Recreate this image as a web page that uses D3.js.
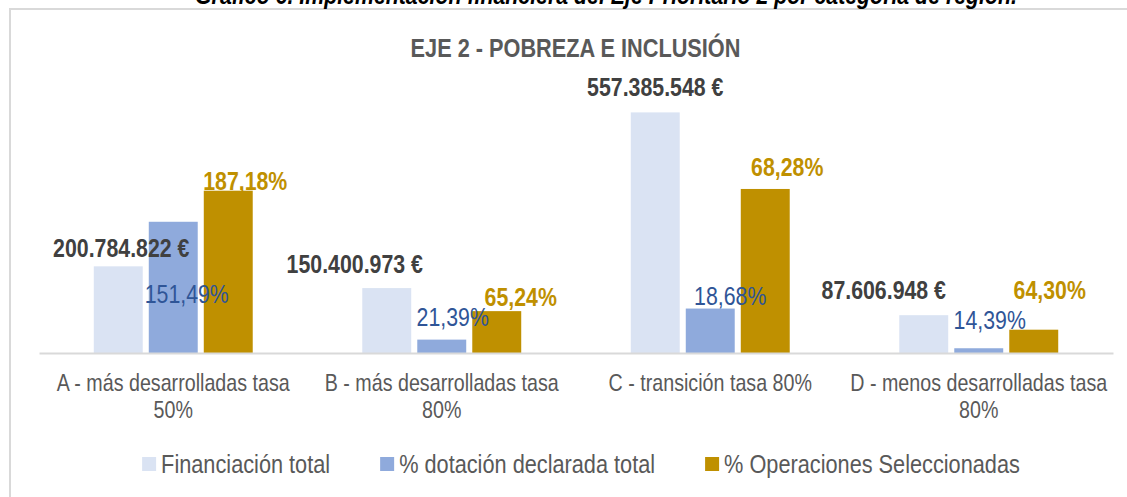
<!DOCTYPE html>
<html>
<head>
<meta charset="utf-8">
<script src="https://cdn.jsdelivr.net/npm/d3@7"></script>
<style>
  body { margin: 0; background: #fff; overflow: hidden; }
  svg text { font-family: "Liberation Sans Narrow", "Arial Narrow", "Liberation Sans", Arial, sans-serif; }
</style>
</head>
<body>
<div class="container"></div>
<script>
// ---------- DATA ----------
var categories = [
  "A - más desarrolladas tasa 50%",
  "B - más desarrolladas tasa 80%",
  "C - transición tasa 80%",
  "D - menos desarrolladas tasa 80%"
];
var seriesNames = ["Financiación total", "% dotación declarada total", "% Operaciones Seleccionadas"];

// euros (bar heights); the two % series are drawn as amounts
var financiacion = [200784822, 150400973, 557385548, 87606948];
var dotacion = [304000000, 31000000, 103000000, 11000000];
var operaciones = [376000000, 97000000, 380000000, 54000000];

// printed labels of the % series
var dotacionLabels = ["151,49%", "21,39%", "18,68%", "14,39%"];
var operacionesLabels = ["187,18%", "65,24%", "68,28%", "64,30%"];

var chartTitle = "EJE 2 - POBREZA E INCLUSIÓN";
var caption = "Gráfico 6. Implementación financiera del Eje Prioritario 2 por categoría de región.";

// ---------- LAYOUT ----------
var width = 1127,
    height = 497,
    baseline = 353,
    plotTop = 94,
    plotLeft = 39,
    plotRight = 1113,
    narrow = 0.82;   // Arial Narrow look: squeeze the sans font horizontally

// label nudges [dx, dy] from the bar centre / top (labels were moved by hand in the original)
var labelNudges = [
  [[3, -9.5], [-32, -14.7], [0, -16.7], [-40, -16.4]],
  [[13.5, 81.6], [11, -13.6], [20, -4], [11, -19.4]],
  [[17, -1], [24, -5], [22, -13.3], [16, -30.7]]
];

var euro = d3.formatLocale({decimal: ",", thousands: ".", grouping: [3], currency: ["", " €"]}).format("$,.0f");

var series = [
  {name: seriesNames[0], values: financiacion, labels: financiacion.map(euro),
   fill: "#dae3f3", text: "#404040", weight: "bold"},
  {name: seriesNames[1], values: dotacion, labels: dotacionLabels,
   fill: "#8faadc", text: "#2f5597", weight: "normal"},
  {name: seriesNames[2], values: operaciones, labels: operacionesLabels,
   fill: "#bf9000", text: "#bf9000", weight: "bold"}
];

function place(x, y) {
  return "translate(" + x + "," + y + ") scale(" + narrow + ",1)";
}

var svg = d3.select(".container").append("svg")
    .attr("width", width)
    .attr("height", height);

// chart frame (runs off the right and bottom of the picture)
svg.append("rect")
  .attr("x", 10)
  .attr("y", 9)
  .attr("width", 1200)
  .attr("height", 600)
  .attr("fill", "none")
  .attr("stroke", "#d9d9d9")
  .attr("stroke-width", 2);

// caption, cut off by the top edge like in the source page
svg.append("text")
  .attr("transform", place(606, 4))
  .attr("text-anchor", "middle")
  .attr("font-size", 26)
  .attr("font-weight", "bold")
  .attr("font-style", "italic")
  .attr("fill", "#000")
  .text(caption);

svg.append("text")
  .attr("transform", place(575.5, 57))
  .attr("text-anchor", "middle")
  .attr("font-size", 26.5)
  .attr("font-weight", "bold")
  .attr("fill", "#595959")
  .text(chartTitle);

// ---------- SCALES ----------
var x0 = d3.scaleBand()
    .domain(categories)
    .range([plotLeft, plotRight])
    .paddingInner(0.408)
    .paddingOuter(0.204);

var x1 = d3.scaleBand()
    .domain(seriesNames)
    .range([0, x0.bandwidth()])
    .paddingInner(0.11);

var y = d3.scaleLinear()
    .domain([0, 600000000])
    .range([baseline, plotTop]);

// ---------- BARS ----------
var rows = [];
series.forEach(function(s, si) {
  s.values.forEach(function(v, i) {
    rows.push({s: s, si: si, i: i, v: v, c: categories[i]});
  });
});

svg.append("g").selectAll("rect")
  .data(rows)
  .enter().append("rect")
    .attr("x", function(d) { return x0(d.c) + x1(d.s.name); })
    .attr("y", function(d) { return y(d.v); })
    .attr("width", x1.bandwidth())
    .attr("height", function(d) { return baseline - y(d.v); })
    .attr("fill", function(d) { return d.s.fill; });

// axis line + category labels
var xAxis = svg.append("g")
    .attr("transform", "translate(0," + baseline + ")")
    .call(d3.axisBottom(x0).tickSize(0).tickSizeOuter(0));

xAxis.select(".domain")
  .attr("stroke", "#d9d9d9")
  .attr("stroke-width", 2);

xAxis.selectAll("text")
  .attr("font-family", null)
  .attr("font-size", 24)
  .attr("fill", "#595959")
  .attr("y", 38.5)
  .attr("dy", null)
  .attr("transform", "scale(" + narrow + ",1)")
  .call(wrap, (x0.step() - 4) / narrow);

function wrap(text, maxWidth) {
  text.each(function() {
    var t = d3.select(this),
        words = t.text().split(/\s+/),
        line = [],
        lineNo = 0,
        yy = t.attr("y"),
        tspan = t.text(null).append("tspan").attr("x", 0).attr("y", yy);
    words.forEach(function(w) {
      line.push(w);
      tspan.text(line.join(" "));
      if (tspan.node().getComputedTextLength() > maxWidth && line.length > 1) {
        line.pop();
        tspan.text(line.join(" "));
        line = [w];
        lineNo++;
        tspan = t.append("tspan").attr("x", 0).attr("y", +yy + lineNo * 26.3).text(w);
      }
    });
  });
}

// data labels, on top of every bar
svg.append("g").selectAll("text")
  .data(rows)
  .enter().append("text")
    .attr("transform", function(d) {
      var n = labelNudges[d.si][d.i];
      return place(x0(d.c) + x1(d.s.name) + x1.bandwidth() / 2 + n[0], y(d.v) + n[1]);
    })
    .attr("text-anchor", "middle")
    .attr("font-size", 26)
    .attr("font-weight", function(d) { return d.s.weight; })
    .attr("fill", function(d) { return d.s.text; })
    .text(function(d) { return d.s.labels[d.i]; });

// ---------- LEGEND ----------
var legend = svg.append("g");
var items = legend.selectAll("g")
  .data(series)
  .enter().append("g");

items.append("rect")
  .attr("y", 457)
  .attr("width", 14)
  .attr("height", 14)
  .attr("fill", function(d) { return d.fill; });

items.append("text")
  .attr("transform", place(19, 472.5))
  .attr("font-size", 26.5)
  .attr("fill", "#595959")
  .text(function(d) { return d.name; });

var xPos = 0;
items.each(function() {
  var g = d3.select(this);
  g.attr("transform", "translate(" + xPos + ",0)");
  xPos += 19 + g.select("text").node().getComputedTextLength() * narrow + 50;
});
var legendWidth = xPos - 50;
legend.attr("transform", "translate(" + (581 - legendWidth / 2) + ",0)");
</script>
</body>
</html>
